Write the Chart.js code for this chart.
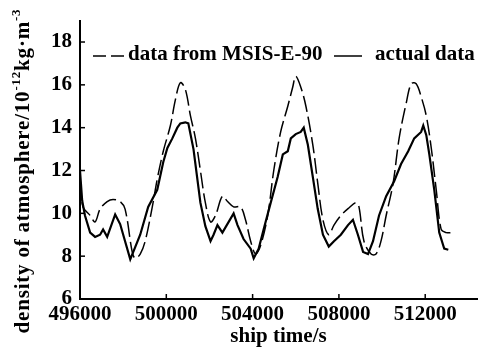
<!DOCTYPE html>
<html>
<head>
<meta charset="utf-8">
<script src="https://cdn.jsdelivr.net/npm/chart.js@4.4.1/dist/chart.umd.min.js"></script>
<style>
  body { margin: 0; background: #fff; }
  #wrap { width: 481px; height: 349px; }
</style>
</head>
<body>
<div id="wrap"><canvas id="densityChart" width="481" height="349"></canvas></div>
<script>
// ship time (s) and density (10^-12 kg/m^3)
var msisTime = [496000, 496140, 496470, 496700, 496930, 497260, 497530, 497860, 498090, 498420,
    498560, 498790, 499020, 499350, 499580, 499860, 500190, 500420, 500650, 500880,
    501120, 501350, 501580, 501810, 502050, 502280, 502600, 502840, 503120, 503440,
    503670, 503910, 504140, 504370, 504700, 504980, 505300, 505630, 505860, 506000,
    506230, 506470, 506790, 507020, 507260, 507530, 507770, 508090, 508460, 508790,
    508930, 509160, 509490, 509720, 509950, 510190, 510510, 510790, 511120, 511350,
    511580, 511810, 512050, 512280, 512510, 512740, 512980, 513210];
var msisDensity = [11.5, 10.3, 9.9, 9.6, 10.2, 10.55, 10.65, 10.55, 10.2, 8.2,
    7.9, 8.1, 8.7, 10.3, 11.6, 12.9, 14.1, 15.3, 16.1, 15.8,
    14.55, 13.5, 12.0, 10.5, 9.6, 9.9, 10.8, 10.55, 10.3, 10.3,
    9.7, 8.7, 8.1, 8.5, 9.9, 12.0, 13.8, 15.0, 15.9, 16.4,
    15.9, 15.0, 13.2, 11.4, 9.7, 9.0, 9.45, 9.9, 10.25, 10.5,
    10.3, 8.7, 8.1, 8.1, 8.7, 9.9, 11.4, 13.5, 15.15, 16.05,
    16.05, 15.45, 14.55, 13.05, 11.1, 9.25, 9.1, 9.1];

var actualTime = [496000, 496100, 496230, 496470, 496700, 496930, 497070, 497260, 497630, 497860,
    498330, 498790, 499160, 499580, 499860, 500050, 500280, 500510, 500650, 500880,
    501020, 501260, 501580, 501810, 502050, 502190, 502370, 502600, 503120, 503300,
    503580, 503910, 504050, 504280, 504510, 504840, 505160, 505400, 505630, 505770,
    506000, 506230, 506370, 506560, 506790, 507020, 507260, 507530, 507770, 508090,
    508420, 508650, 508880, 509120, 509350, 509580, 509860, 510190, 510560, 510880,
    511210, 511490, 511810, 511910, 512050, 512190, 512420, 512650, 512880, 513070];
var actualDensity = [12.0, 10.6, 9.9, 9.1, 8.9, 9.0, 9.25, 8.9, 9.95, 9.5,
    7.85, 9.0, 10.3, 11.1, 12.4, 13.05, 13.5, 14.0, 14.2, 14.25,
    14.2, 13.0, 10.5, 9.4, 8.7, 9.0, 9.45, 9.1, 10.0, 9.45,
    8.8, 8.35, 7.9, 8.35, 9.25, 10.5, 11.7, 12.75, 12.9, 13.5,
    13.7, 13.8, 14.0, 13.2, 11.7, 10.2, 9.0, 8.45, 8.7, 9.0,
    9.45, 9.7, 9.0, 8.2, 8.1, 8.7, 9.9, 10.8, 11.5, 12.3,
    12.9, 13.5, 13.8, 14.1, 13.65, 12.75, 11.1, 9.1, 8.35, 8.3];

var xTicks = [496000, 500000, 504000, 508000, 512000];
var yTicks = [6, 8, 10, 12, 14, 16, 18];

function toPoints(xs, ys) {
    return xs.map(function (x, i) { return { x: x, y: ys[i] }; });
}

var serif = '"Liberation Serif", "Times New Roman", serif';

// small ticks pointing into the plot
var innerTicks = {
    id: 'innerTicks',
    afterDraw: function (chart) {
        var c = chart.ctx, a = chart.chartArea;
        var xs = chart.scales.x, ys = chart.scales.y;
        c.save();
        c.strokeStyle = '#000';
        c.lineWidth = 1.5;
        xTicks.forEach(function (v) {
            var px = xs.getPixelForValue(v);
            c.beginPath(); c.moveTo(px, a.bottom); c.lineTo(px, a.bottom - 5); c.stroke();
        });
        yTicks.forEach(function (v) {
            var py = ys.getPixelForValue(v);
            c.beginPath(); c.moveTo(a.left, py); c.lineTo(a.left + 5, py); c.stroke();
        });
        c.restore();
    }
};

// legend drawn inside the plot, like the original
var innerLegend = {
    id: 'innerLegend',
    afterDraw: function (chart) {
        var c = chart.ctx;
        var items = [
            { ds: chart.data.datasets[0], x0: 93, x1: 126, tx: 128 },
            { ds: chart.data.datasets[1], x0: 334, x1: 362, tx: 375 }
        ];
        c.save();
        c.font = 'bold 21px ' + serif;
        c.textBaseline = 'middle';
        c.fillStyle = '#000';
        items.forEach(function (it) {
            var y = 55;
            c.strokeStyle = '#000';
            c.lineWidth = 1.5;
            c.setLineDash(it.ds.borderDash ? [13, 5] : []);
            c.beginPath(); c.moveTo(it.x0, y + 1); c.lineTo(it.x1, y + 1); c.stroke();
            c.setLineDash([]);
            c.fillText(it.ds.label, it.tx, y);
        });
        c.restore();
    }
};

// rotated y title with superscripts
var yTitle = {
    id: 'yTitle',
    afterDraw: function (chart) {
        var c = chart.ctx;
        var parts = [
            { t: 'density of atmosphere/10', sup: false },
            { t: '-12', sup: true },
            { t: 'kg\u00b7m', sup: false },
            { t: '-3', sup: true }
        ];
        var big = 'bold 21px ' + serif, small = 'bold 13px ' + serif;
        c.save();
        c.letterSpacing = '0.8px';
        var total = 0;
        parts.forEach(function (p) { c.font = p.sup ? small : big; p.w = c.measureText(p.t).width; total += p.w; });
        c.translate(24, 171);
        c.rotate(-Math.PI / 2);
        c.fillStyle = '#000';
        c.textBaseline = 'middle';
        var x = -total / 2;
        parts.forEach(function (p) {
            c.font = p.sup ? small : big;
            c.fillText(p.t, x, p.sup ? -7 : 0);
            x += p.w;
        });
        c.restore();
    }
};

var ctx = document.getElementById('densityChart').getContext('2d');

var densityChart = new Chart(ctx, {
    type: 'line',
    data: {
        datasets: [
            {
                label: 'data from MSIS-E-90',
                data: toPoints(msisTime, msisDensity),
                borderColor: '#000',
                borderWidth: 1.5,
                borderDash: [16, 5],
                pointRadius: 0,
                tension: 0.35,
                fill: false
            },
            {
                label: 'actual data',
                data: toPoints(actualTime, actualDensity),
                borderColor: '#000',
                borderWidth: 2.2,
                pointRadius: 0,
                tension: 0,
                fill: false
            }
        ]
    },
    options: {
        responsive: false,
        animation: false,
        layout: { padding: { top: 12, right: 4, left: 0, bottom: 0 } },
        plugins: {
            legend: { display: false },
            tooltip: { enabled: false }
        },
        scales: {
            x: {
                type: 'linear',
                min: 496000,
                max: 514400,
                afterBuildTicks: function (s) { s.ticks = xTicks.map(function (v) { return { value: v }; }); },
                afterFit: function (s) { s.height = 50; },
                grid: { display: false, drawTicks: false },
                border: { display: true, color: '#000', width: 2 },
                ticks: {
                    color: '#000',
                    padding: 3,
                    maxRotation: 0,
                    font: { family: serif, size: 21, weight: 'bold' },
                    callback: function (v) { return String(v); }
                },
                title: {
                    display: true,
                    text: 'ship time/s',
                    color: '#000',
                    padding: 0,
                    font: { family: serif, size: 21, weight: 'bold' }
                }
            },
            y: {
                min: 6,
                max: 19,
                afterBuildTicks: function (s) { s.ticks = yTicks.map(function (v) { return { value: v }; }); },
                afterFit: function (s) { s.width = 80; },
                grid: { display: false, drawTicks: false },
                border: { display: true, color: '#000', width: 2 },
                ticks: {
                    color: '#000',
                    padding: 8,
                    font: { family: serif, size: 21, weight: 'bold' }
                }
            }
        }
    },
    plugins: [innerTicks, innerLegend, yTitle]
});
</script>
</body>
</html>
